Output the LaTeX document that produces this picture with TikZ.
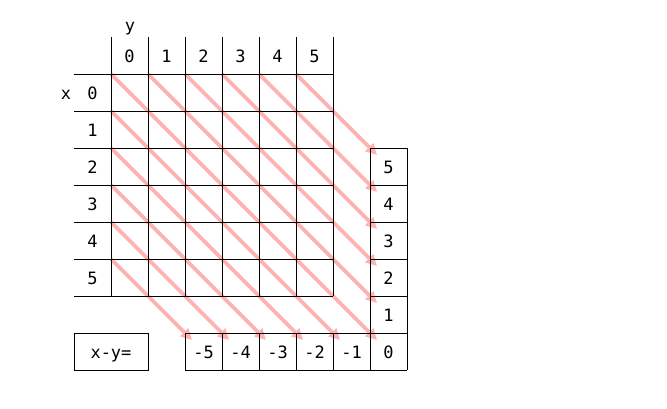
\documentclass[tikz,border=0pt]{standalone}
\usepackage{fontspec}
\newfontfamily\monofnt{DejaVu Sans Mono}
\usetikzlibrary{arrows.meta}
\definecolor{arrowpink}{RGB}{255,178,178}
\tikzset{
  gridline/.style={black, line width=0.9pt},
  lbl/.style={anchor=base, inner sep=0pt, font=\monofnt\fontsize{17}{17}\selectfont},
  diagarrow/.style={draw=arrowpink, fill=arrowpink, line width=3.6pt,
    -{Triangle[length=11pt,width=11pt]}},
  boxcell/.style={draw, line width=0.9pt, minimum width=74pt, minimum height=37pt, inner sep=0pt}
}
\begin{document}
\begin{tikzpicture}[x=1pt,y=-1pt]
\useasboundingbox (0,0) rectangle (667,408);
% arrows (under the grid)
\foreach \k in {0,...,5} {
  \coordinate (ts\k) at (111+37*\k,74);
  \coordinate (te\k) at (377,340-37*\k);
  \draw[diagarrow] (ts\k) -- (te\k);
}
\foreach \k in {1,...,5} {
  \coordinate (ls\k) at (111,74+37*\k);
  \coordinate (le\k) at (377-37*\k,340);
  \draw[diagarrow] (ls\k) -- (le\k);
}
% main grid
\foreach \i in {0,...,6} {
  \draw[gridline] (111+37*\i,37) -- (111+37*\i,296);
  \draw[gridline] (74,74+37*\i) -- (333,74+37*\i);
}
% right column
\draw[gridline] (370,148) -- (370,370);
\draw[gridline] (407,148) -- (407,370);
\foreach \j in {0,...,6} \draw[gridline] (370,148+37*\j) -- (407,148+37*\j);
% bottom row
\draw[gridline] (185,333) -- (370,333);
\draw[gridline] (185,370) -- (370,370);
\foreach \i in {0,...,4} \draw[gridline] (185+37*\i,333) -- (185+37*\i,370);
% labels
\node[lbl] (ylab) at (130,31) {y};
\node[lbl] (xlab) at (66,99) {x};
\foreach \i in {0,...,5} {
  \node[lbl] (c\i) at (129.5+37*\i,62) {\i};
  \node[lbl] (r\i) at (92.5,99+37*\i) {\i};
}
\foreach \v [count=\j from 0] in {5,4,3,2,1,0}
  \node[lbl] (p\v) at (388.5,173+37*\j) {\v};
\foreach \v [count=\j from 0] in {-5,-4,-3,-2,-1}
  \node[lbl] (n\j) at (203.5+37*\j,358) {\v};
\node[boxcell] (xyb) at (111,351.5) {};
\node[lbl] (xy) at (111,358) {x-y=};
\end{tikzpicture}
\end{document}
